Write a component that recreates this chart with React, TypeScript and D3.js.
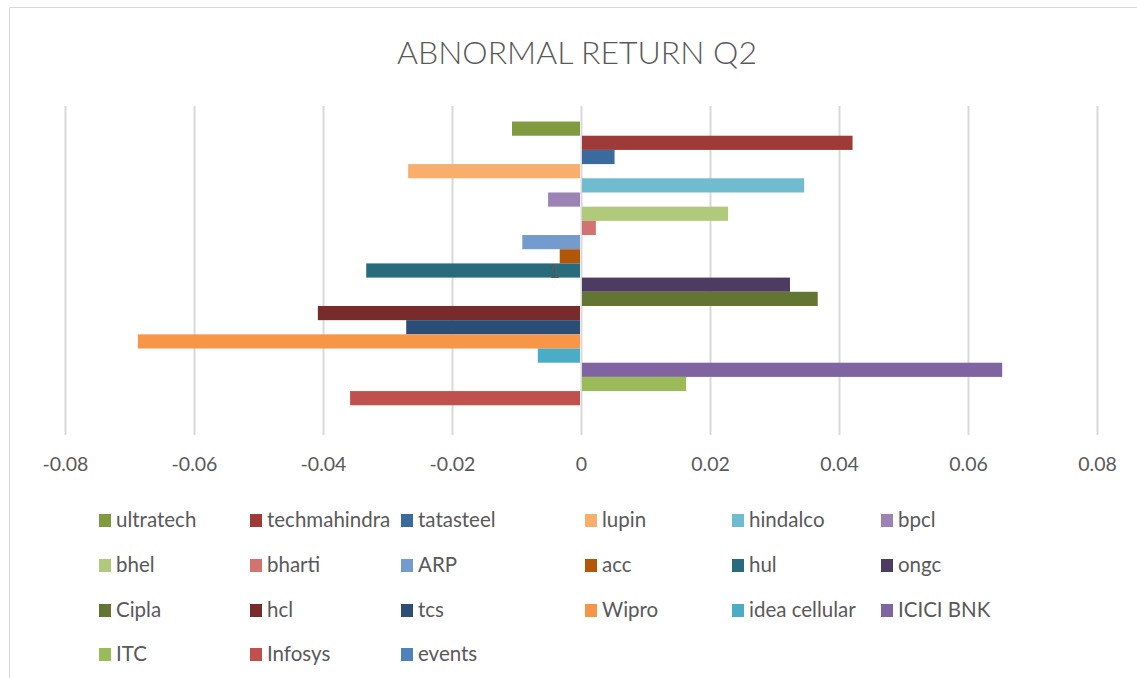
import React, { useEffect, useRef } from 'react';
import * as d3 from 'd3';

// series names, in the order Excel stacks them (top to bottom)
const seriesNames = [
  'ultratech', 'techmahindra', 'tatasteel', 'lupin', 'hindalco', 'bpcl',
  'bhel', 'bharti', 'ARP', 'acc', 'hul', 'ongc',
  'Cipla', 'hcl', 'tcs', 'Wipro', 'idea cellular', 'ICICI BNK',
  'ITC', 'Infosys', 'events',
];

// abnormal return values
const seriesValues = [
  -0.0107, 0.0421, 0.0052, -0.0268, 0.0346, -0.0051,
  0.0228, 0.0023, -0.0091, -0.0033, -0.0333, 0.0324,
  0.0367, -0.0408, -0.0271, -0.0687, -0.0067, 0.0653,
  0.0163, -0.0358, 0,
];

const seriesColors = [
  '#7F9A3F', '#9E3A38', '#3A6A9E', '#F9AE6B', '#6FBCD0', '#9B84B5',
  '#B0C97B', '#D07371', '#739BCD', '#B45607', '#276B7C', '#4E3B62',
  '#627532', '#772B2B', '#2C4D75', '#F79646', '#4BACC6', '#8064A2',
  '#9BBB59', '#C0504D', '#4F81BD',
];

const categories = ['1'];
const xTicks = [-0.08, -0.06, -0.04, -0.02, 0, 0.02, 0.04, 0.06, 0.08];

const W = 1137;
const H = 678;
const TEXT = '#595959';
const GRID = '#d9d9d9';
const FONT = 'Lato, "Open Sans", sans-serif';

const App = () => {
  const ref = useRef<SVGSVGElement>(null);

  useEffect(() => {
    const svg = d3.select(ref.current);
    svg.selectAll('*').remove();

    // chart border (only left and top are inside the picture)
    svg.append('path')
      .attr('d', `M9.5,${H} L9.5,7.5 L${W},7.5`)
      .attr('fill', 'none')
      .attr('stroke', GRID);

    svg.append('text')
      .attr('x', 577)
      .attr('y', 64)
      .attr('text-anchor', 'middle')
      .attr('font-family', FONT)
      .attr('font-weight', 300)
      .attr('font-size', 32)
      .attr('fill', TEXT)
      .text('ABNORMAL RETURN Q2');

    const top = 106;
    const bottom = 435;
    const x = d3.scaleLinear().domain([-0.08, 0.08]).range([65, 1097]);

    // gap width 219% of one bar
    const n = seriesNames.length;
    const outer = ((n + 2.19) / n - 1) / 2;
    const yCat = d3.scaleBand().domain(categories).range([top, bottom]).paddingInner(0).paddingOuter(outer);
    const ySer = d3.scaleBand().domain(seriesNames).range([0, yCat.bandwidth()]).padding(0);

    // grid lines + tick labels
    const axis = svg.append('g')
      .attr('transform', `translate(0, ${bottom})`)
      .call(d3.axisBottom(x).tickValues(xTicks).tickSize(-(bottom - top)).tickPadding(22).tickFormat((d) => `${d}`));
    axis.select('.domain').remove();
    axis.selectAll('.tick line').attr('stroke', GRID).attr('stroke-width', 2);
    axis.selectAll('.tick text')
      .attr('font-family', FONT)
      .attr('font-size', 19.5)
      .attr('fill', TEXT);

    const data = seriesNames.map((name, i) => ({ name, value: seriesValues[i], color: seriesColors[i] }));

    svg.append('g')
      .selectAll('rect')
      .data(data)
      .enter()
      .append('rect')
      .attr('x', (d) => (d.value < 0 ? x(d.value) : x(0) + 1))
      .attr('y', (d) => (yCat('1') as number) + (ySer(d.name) as number))
      .attr('width', (d) => Math.max(0, Math.abs(x(d.value) - x(0)) - 1))
      .attr('height', ySer.bandwidth())
      .attr('fill', (d) => d.color);

    // category label
    svg.append('text')
      .attr('x', 560)
      .attr('y', (yCat('1') as number) + yCat.bandwidth() / 2 + 7)
      .attr('text-anchor', 'end')
      .attr('font-family', FONT)
      .attr('font-size', 19)
      .attr('fill', TEXT)
      .text(categories[0]);

    // legend
    const legendCols = [99, 250, 401, 585, 732, 881];
    const legendRows = [520, 565, 610, 654];
    const legend = svg.append('g')
      .selectAll('g')
      .data(data)
      .enter()
      .append('g')
      .attr('transform', (d, i) => `translate(${legendCols[i % 6]}, ${legendRows[Math.floor(i / 6)]})`);
    legend.append('rect')
      .attr('x', 0)
      .attr('y', -6)
      .attr('width', 12)
      .attr('height', 13)
      .attr('fill', (d) => d.color);
    legend.append('text')
      .attr('x', 17)
      .attr('y', 7)
      .attr('font-family', FONT)
      .attr('font-size', 20.5)
      .attr('fill', TEXT)
      .text((d) => d.name);
  }, []);

  return (
    <svg
      ref={ref}
      width={W}
      height={H}
      style={{ position: 'absolute', left: 0, top: 0, background: '#fff' }}
    />
  );
};

export default App;
